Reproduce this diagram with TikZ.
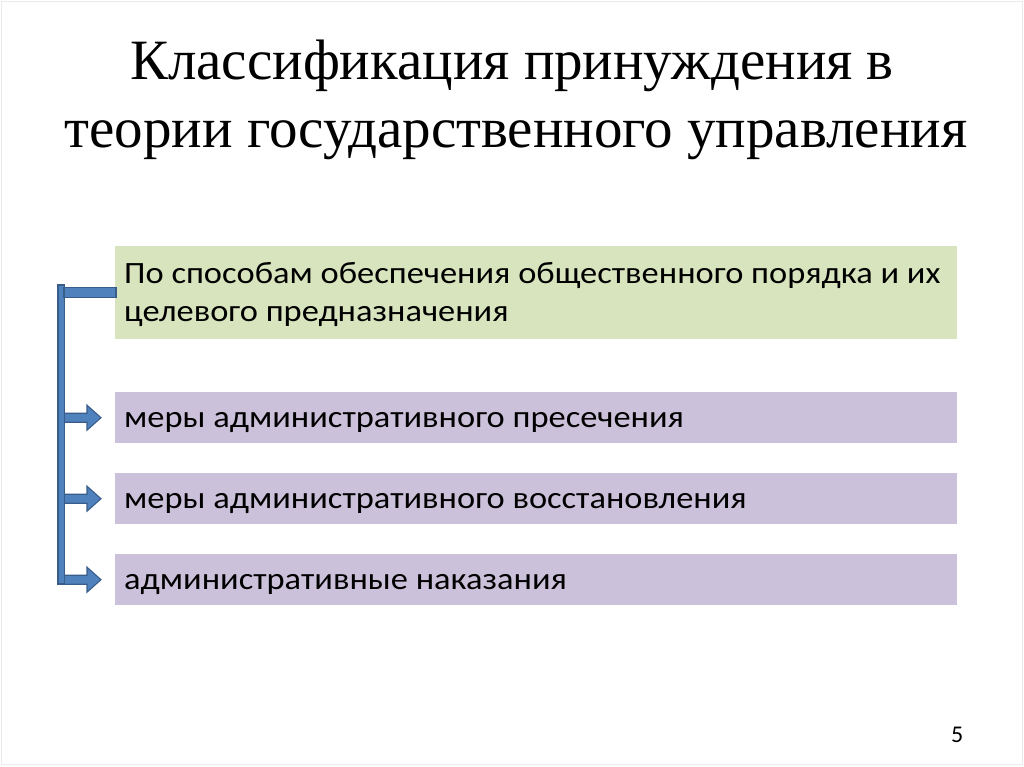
\documentclass[tikz,border=0pt]{standalone}
\usepackage{fontspec}
\setmainfont{Liberation Serif}
\newfontfamily\bodyfont[FakeStretch=1.11]{Carlito}
\newfontfamily\numfont{Carlito}
\usetikzlibrary{calc}
\definecolor{boxgreen}{HTML}{D7E4BD}
\definecolor{boxpurple}{HTML}{CCC1DA}
\definecolor{barblue}{HTML}{4F81BD}
\definecolor{bardark}{HTML}{385D8A}
\tikzset{
  titletext/.style={font=\fontsize{57}{68}\selectfont, inner sep=0pt},
  bodytext/.style={font=\bodyfont\fontsize{31}{38}\selectfont, inner sep=0pt, align=left},
  greenbox/.style={fill=boxgreen, draw=none, minimum width=842pt, minimum height=93pt, inner sep=0pt},
  purplebox/.style={fill=boxpurple, draw=none, minimum width=842pt, minimum height=51pt, inner sep=0pt},
  blk/.style={fill=barblue, draw=bardark, line width=1.1pt, line join=miter},
}
\newcommand\blockarrowto[1]{%
  \filldraw[blk] ($(#1.west)+(-54,-4.5)$) -- ++(26,0) -- ++(0,-8) -- ++(14,12.5)
    -- ++(-14,12.5) -- ++(0,-8) -- ++(-26,0) -- cycle;}
\begin{document}
\begin{tikzpicture}[x=1pt,y=-1pt]
\useasboundingbox (0,0) rectangle (1024,767);
\fill[white] (0,0) rectangle (1024,767);
\draw[black!8, line width=0.6pt] (1.5,1.5) rectangle (1022,764.5);

% title
\node[titletext, anchor=base] (t1) at (512,80) {Классификация принуждения в};
\node[titletext, anchor=base] (t2) at (516,148) {теории государственного управления};

% boxes
\node[greenbox, anchor=north west] (g) at (115,246) {};
\node[purplebox, anchor=north west] (b1) at (115,392) {};
\node[purplebox, anchor=north west] (b2) at (115,473) {};
\node[purplebox, anchor=north west] (b3) at (115,554) {};

% texts (base = last line)
\node[bodytext, anchor=base west] (gt) at (124,321) {По способам обеспечения общественного порядка и их\\целевого предназначения};
\node[bodytext, anchor=base west] (t1b) at ($(b1.west)+(9,10)$) {меры административного пресечения};
\node[bodytext, anchor=base west] (t2b) at ($(b2.west)+(9,10)$) {меры административного восстановления};
\node[bodytext, anchor=base west] (t3b) at ($(b3.west)+(9,10)$) {административные наказания};

% bracket connectors
\coordinate (spinetop) at (58,285);
\coordinate (spinebot) at (64.5,584);
\blockarrowto{b1}
\blockarrowto{b2}
\blockarrowto{b3}
\filldraw[blk] (spinetop) rectangle (spinebot);
\filldraw[blk] ($(g.west)+(-51,-5)$) rectangle ($(g.west)+(1,5)$);

% page number
\node[font=\numfont\fontsize{24}{28}\selectfont, inner sep=0pt, anchor=base west] (pn) at (951,742) {5};
\end{tikzpicture}
\end{document}
